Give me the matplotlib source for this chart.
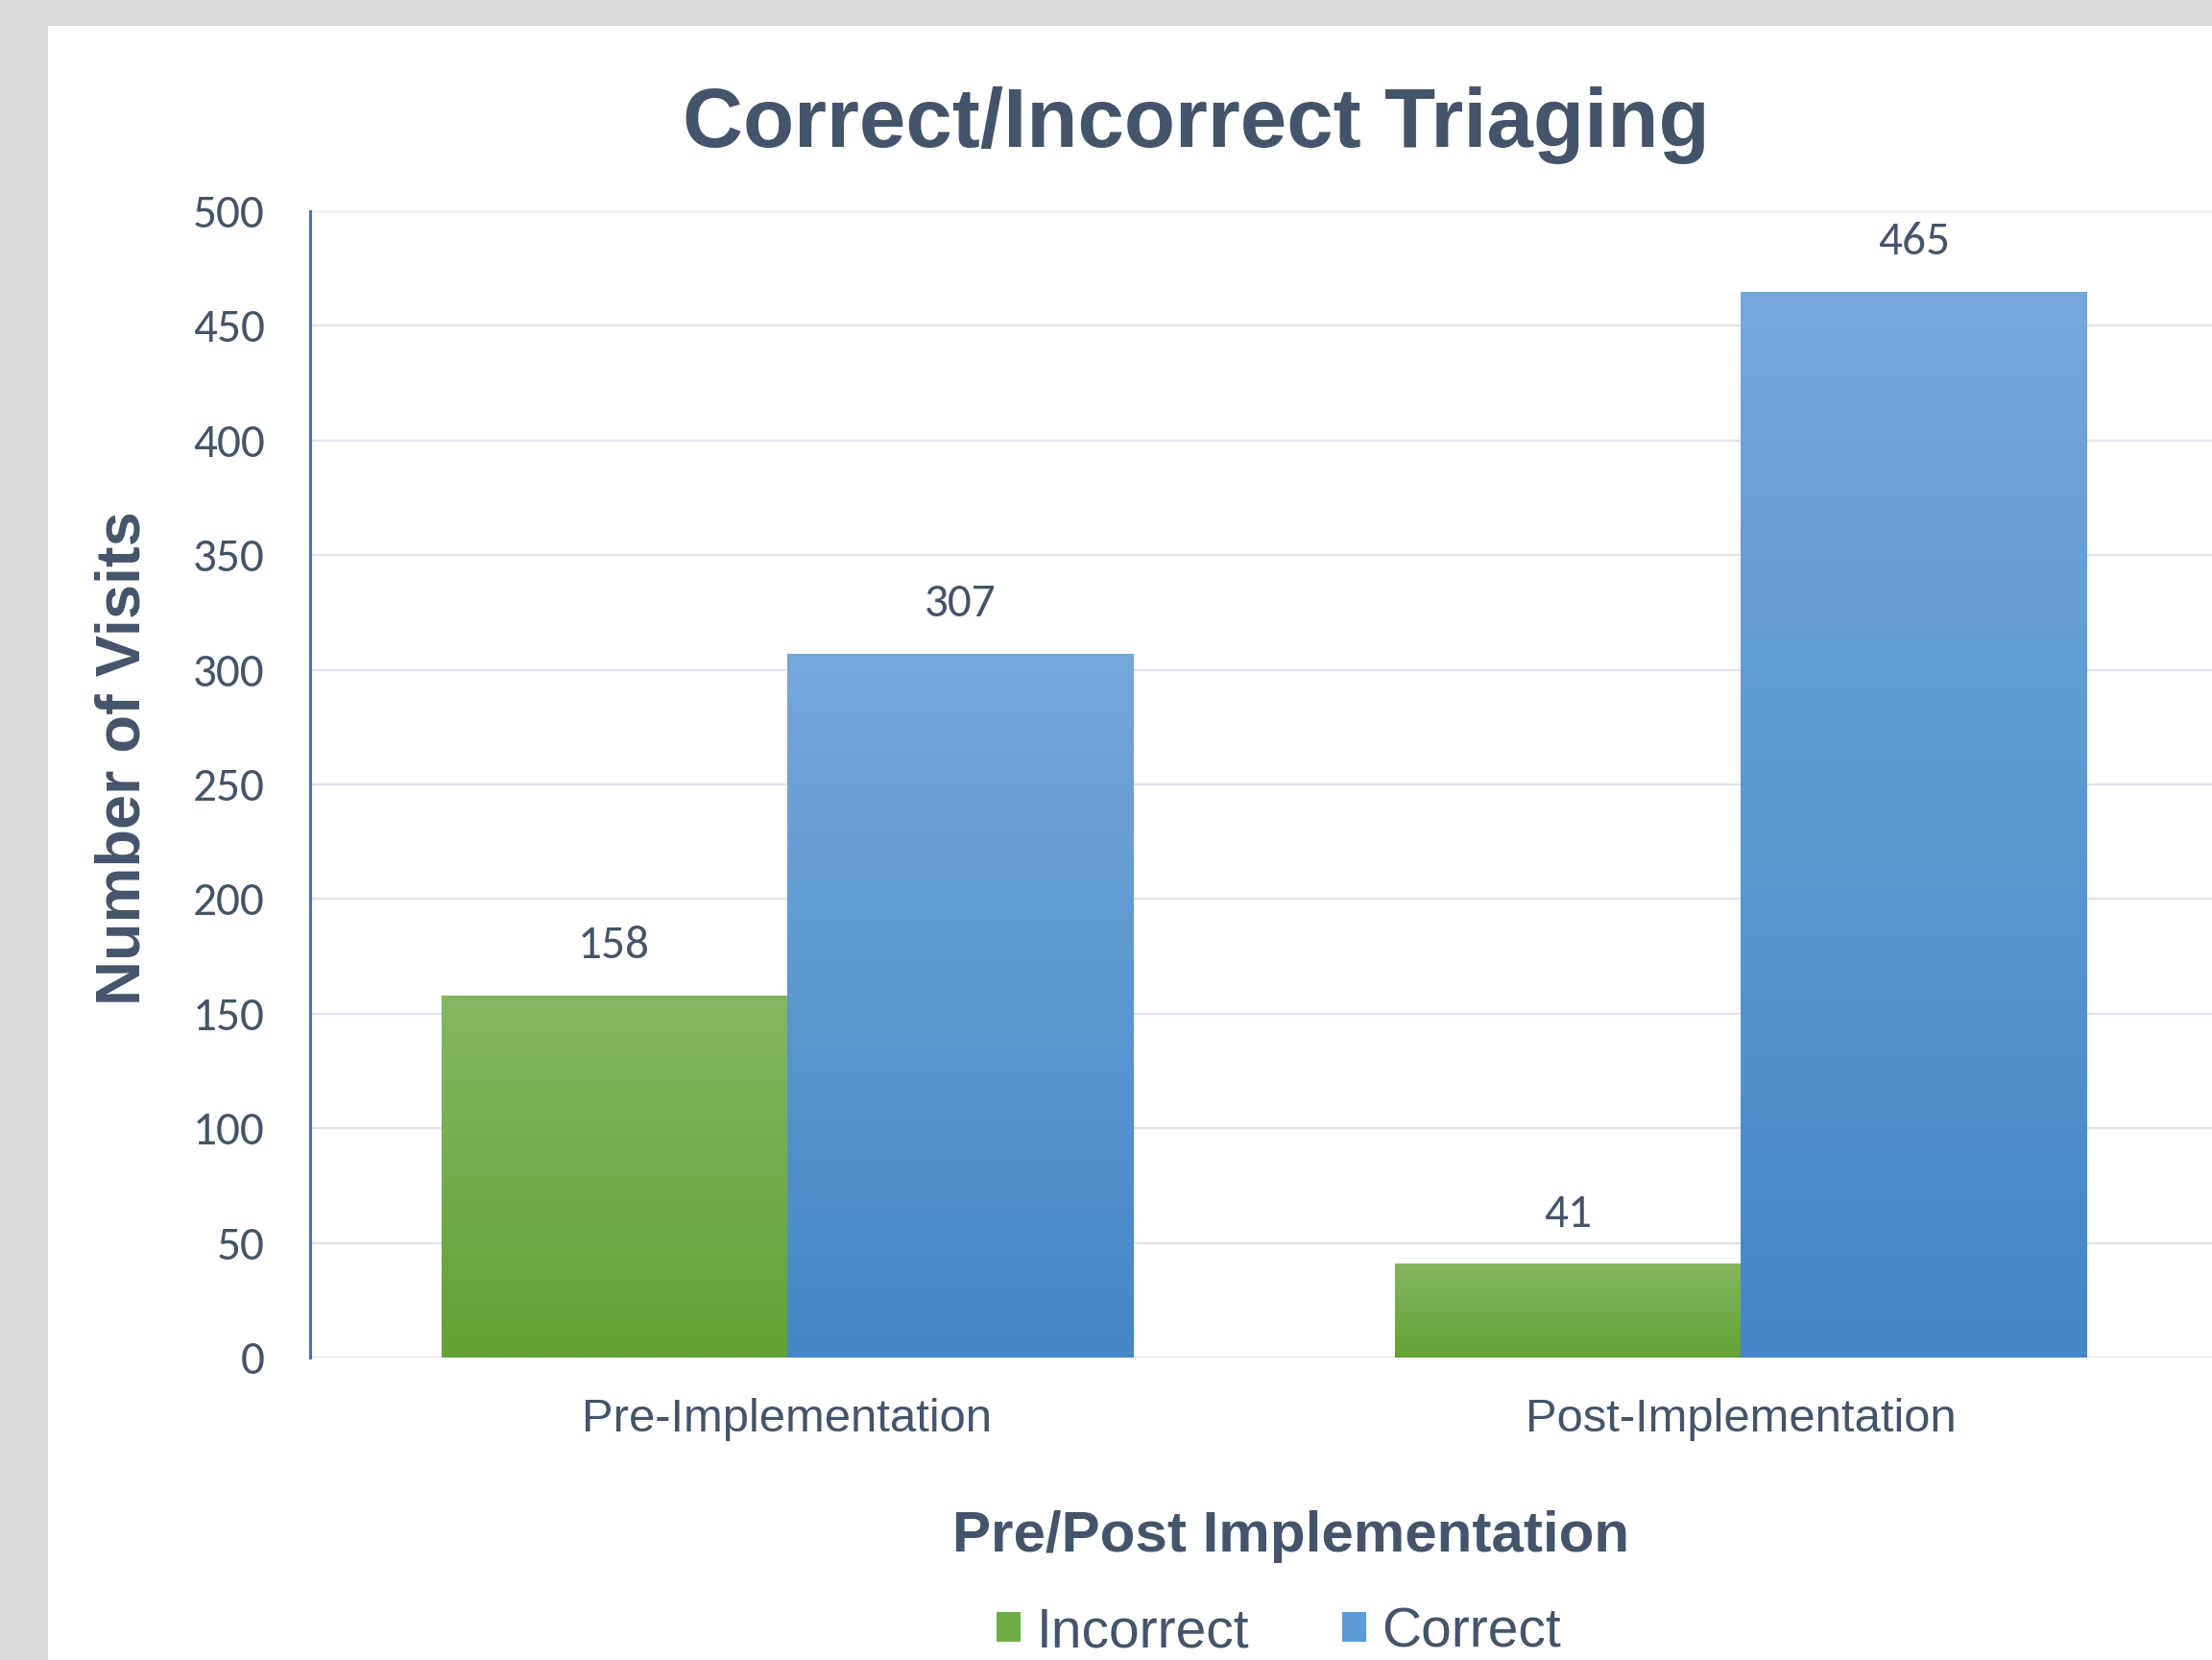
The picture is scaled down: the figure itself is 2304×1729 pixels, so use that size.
import numpy as np
import matplotlib
matplotlib.use("Agg")
import matplotlib.pyplot as plt
from matplotlib.patches import Rectangle
from matplotlib.colors import LinearSegmentedColormap

categories = ["Pre-Implementation", "Post-Implementation"]
series_names = ["Incorrect", "Correct"]
incorrect = [158, 41]
correct = [307, 465]
y_ticks = [0, 50, 100, 150, 200, 250, 300, 350, 400, 450, 500]

TEXT = "#44546a"
GREEN_TOP, GREEN_BOT = "#84b761", "#62a233"
BLUE_TOP, BLUE_BOT = "#75a7db", "#4387c7"
NUM_FONT = ["Carlito", "Lato", "DejaVu Sans"]
SANS = ["Liberation Sans", "DejaVu Sans"]

fig = plt.figure(figsize=(23.04, 17.29), dpi=100)
fig.patch.set_facecolor("#d9d9d9")
fig.patches.append(Rectangle((50 / 2304, 0), 1, 1 - 27 / 1729, transform=fig.transFigure,
                             facecolor="white", edgecolor="none", zorder=-5))

ax = fig.add_axes([0.1402, 0.1822, 1.0026 - 0.1402, 0.8728 - 0.1822])
ax.set_facecolor("white")
ax.set_zorder(2)

x = np.arange(len(categories))
w = 0.3624
bars_inc = ax.bar(x - w / 2, incorrect, w, color=GREEN_BOT, zorder=3, linewidth=0)
bars_cor = ax.bar(x + w / 2, correct, w, color=BLUE_BOT, zorder=3, linewidth=0)

grad = np.linspace(1, 0, 256).reshape(-1, 1)
for bars, top, bot in [(bars_inc, GREEN_TOP, GREEN_BOT), (bars_cor, BLUE_TOP, BLUE_BOT)]:
    cmap = LinearSegmentedColormap.from_list("g", [bot, top])
    for b in bars:
        x0, y0 = b.get_x(), b.get_y()
        im = ax.imshow(grad, cmap=cmap, aspect="auto", origin="upper",
                       extent=[x0, x0 + b.get_width(), y0, y0 + b.get_height()],
                       zorder=4, interpolation="bilinear")
        im.set_clip_path(b)

ax.set_xlim(-0.5, 1.5)
ax.set_ylim(0, 500)
ax.set_aspect("auto")

for bars, vals in [(bars_inc, incorrect), (bars_cor, correct)]:
    for b, v in zip(bars, vals):
        ax.annotate(str(v), (b.get_x() + b.get_width() / 2, b.get_height()),
                    xytext=(0, 22), textcoords="offset points", ha="center", va="bottom",
                    fontsize=35.5, color=TEXT, family=NUM_FONT, zorder=5)

ax.set_yticks(y_ticks)
ax.set_yticklabels([str(t) for t in y_ticks], fontsize=35.5, color=TEXT, family=NUM_FONT)
ax.set_xticks(x)
ax.set_xticklabels(categories, fontsize=35.3, color=TEXT, family=SANS)
ax.tick_params(axis="y", length=0, pad=34)
ax.tick_params(axis="x", length=0, pad=30)

ax.grid(axis="y", color="#dfe3eb", linewidth=1.7, zorder=0)
ax.set_axisbelow(True)
for s in ["top", "right", "bottom"]:
    ax.spines[s].set_visible(False)
ax.spines["left"].set_color("#4472c4")
ax.spines["left"].set_linewidth(2.2)
ax.spines["left"].set_zorder(6)

fig.text(1246 / 2304, 1 - 153 / 1729, "Correct/Incorrect Triaging", ha="center", va="baseline",
         fontsize=62.7, fontweight="bold", color=TEXT, family=SANS)
fig.text(128 / 2304, 1 - 790 / 1729, "Number of Visits", ha="center", va="center", rotation=90,
         fontsize=46.8, fontweight="bold", color=TEXT, family=SANS)
fig.text(1345 / 2304, 1 - 1616 / 1729, "Pre/Post Implementation", ha="center", va="baseline",
         fontsize=43.3, fontweight="bold", color=TEXT, family=SANS)

handles = [Rectangle((0, 0), 1, 1, facecolor="#6fae47", edgecolor="none"),
           Rectangle((0, 0), 1, 1, facecolor="#5b9bd5", edgecolor="none")]
leg = fig.legend(handles, series_names, loc="center", bbox_to_anchor=(1332 / 2304, 1 - 1700 / 1729),
                 ncol=2, frameon=False, prop={"family": SANS, "size": 41},
                 handlelength=0.45, handleheight=0.45, handletextpad=0.28, columnspacing=1.7,
                 borderpad=0, borderaxespad=0)
for t in leg.get_texts():
    t.set_color(TEXT)

fig.savefig("out.png", dpi=100, facecolor=fig.get_facecolor())
